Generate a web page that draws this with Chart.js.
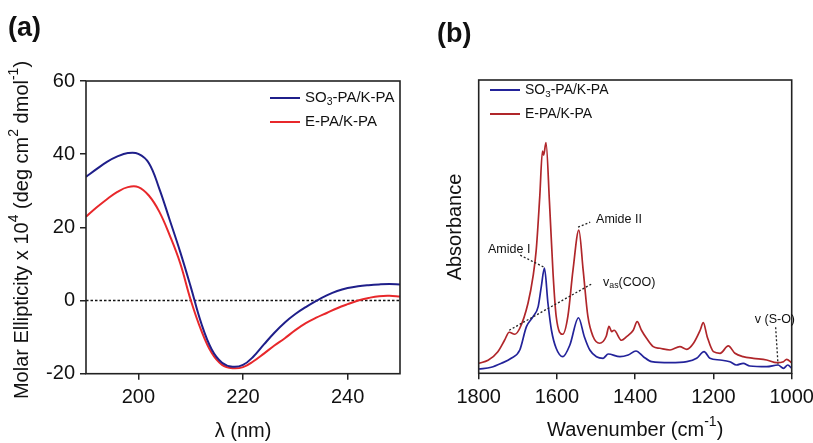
<!DOCTYPE html>
<html><head><meta charset="utf-8">
<script src="https://cdn.jsdelivr.net/npm/chart.js@4.4.0/dist/chart.umd.min.js"></script>
<style>
html,body{margin:0;padding:0;background:#fff;width:813px;height:443px;overflow:hidden;position:relative}
#ca{position:absolute;left:0;top:0}
#cb{position:absolute;left:410px;top:0}
</style></head><body>
<canvas id="ca" width="410" height="443"></canvas>
<canvas id="cb" width="420" height="443"></canvas>
<script>
// ---------- Panel (a): CD spectra ----------
const cdWavelength = [190,192,194,196,198,200,202,204,206,208,210,212,214,216,218,220,222,224,226,228,230,232,234,236,238,240,242,244,246,248,250];
const cdSO3 =        [33.8,35.9,37.9,39.4,40.3,40.1,37.6,30.6,22.0,13.3,3.8,-6.1,-13.3,-17.0,-18.1,-17.6,-15.3,-12.0,-8.8,-6.0,-3.7,-1.8,-0.1,1.4,2.6,3.4,3.9,4.2,4.4,4.5,4.4];
const cdE =          [22.9,25.4,27.7,29.7,31.0,31.0,28.7,24.3,17.8,10.2,0.2,-8.1,-14.3,-17.6,-18.5,-18.2,-16.6,-14.5,-12.3,-10.3,-8.1,-6.2,-4.7,-3.4,-2.1,-1.0,0.0,0.7,1.2,1.3,1.1];
const cdXTicks = [200,220,240];
const cdYTicks = [-20,0,20,40,60];

// ---------- Panel (b): FTIR spectra (arbitrary absorbance units) ----------
const irNuSO3 = [1800,1768,1742,1717,1695,1678,1661,1648,1640,1632,1623,1614,1602,1585,1567,1545,1530,1516,1499,1482,1469,1439,1418,1398,1379,1358,1311,1268,1243,1224,1209,1183,1158,1141,1124,1107,1064,1035,1021,1010,1000];
const irSO3 =   [4.3,6,10,15,23.3,46.6,56.6,66.6,86.6,105,70,43,25,16.6,28.3,55.5,36.6,23.3,16.6,15,19.3,16.6,18.3,22.3,16.6,11.6,10.6,11.6,15,21.6,15,13.3,11.6,8.3,10,7.3,6.6,8.3,5,8.3,5];
const irNuE = [1800,1776,1751,1734,1722,1708,1695,1674,1661,1653,1644,1637,1634,1628,1619,1610,1602,1585,1572,1559,1544,1533,1521,1508,1491,1474,1467,1460,1454,1435,1422,1405,1395,1384,1371,1354,1337,1311,1286,1268,1251,1234,1226,1216,1200,1183,1162,1145,1124,1098,1064,1038,1021,1013,1000];
const irE =   [10,13,21.6,33,41,39,45,70,97,123,176,222,218,230.5,170,100,57,39,57,103,143,103,57,37,30,37,47,41.6,43,33,36.6,43,51.6,43,35,26.6,25,23.3,26.6,24,30,43,50.6,36.6,21.6,20,27.3,20,16.6,15,13.3,10.6,11.6,14,10.6];
const irXTicks = [1800,1600,1400,1200,1000];

const seriesNames = ['SO_{3}-PA/K-PA','E-PA/K-PA'];

// annotations (wavenumber, absorbance units)
const irNotes = [
  {text:'Amide I', nu:1722, h:124, align:'center', from:[1694,118], to:[1633,106]},
  {text:'Amide II', nu:1500, h:154, align:'left', from:[1546,146], to:[1515,151]},
  {text:'v_{as}(COO)', nu:1482, h:91, align:'left', from:[1722,43], to:[1508,90]},
  {text:'v (S-O)', nu:1043, h:54, align:'center', from:[1041,46], to:[1035,9]}
];

const FONT = '"Liberation Sans", Arial, Helvetica, sans-serif';
const INK = '#222';

function parseRich(s){
  const parts=[]; const re=/([_^])\{([^}]*)\}/g; let last=0, m;
  while((m=re.exec(s))){ if(m.index>last) parts.push([s.slice(last,m.index),0]); parts.push([m[2], m[1]==='^'?1:-1]); last=re.lastIndex; }
  if(last<s.length) parts.push([s.slice(last),0]);
  return parts;
}
function drawRich(ctx, s, x, y, size, align, weight){
  const parts=parseRich(s); weight=weight||'normal';
  let total=0;
  parts.forEach(p=>{ ctx.font = weight+' '+(p[1]?size*0.7:size)+'px '+FONT; total+=ctx.measureText(p[0]).width; });
  let cx = align==='center'? x-total/2 : (align==='right'? x-total : x);
  ctx.textBaseline='middle'; ctx.textAlign='left';
  parts.forEach(p=>{
    const fs = p[1]?size*0.7:size;
    ctx.font = weight+' '+fs+'px '+FONT;
    const dy = p[1]===1? -size*0.38 : (p[1]===-1? size*0.3 : 0);
    ctx.fillText(p[0], cx, y+dy);
    cx += ctx.measureText(p[0]).width;
  });
}

function framePlugin(opts){
  return {
    id:'deco',
    afterDatasetsDraw(chart){
      const ctx=chart.ctx, a=chart.chartArea;
      ctx.save();
      ctx.strokeStyle=INK; ctx.lineWidth=1.6;
      ctx.strokeRect(a.left, a.top, a.right-a.left, a.bottom-a.top);
      ctx.fillStyle='#111';
      drawRich(ctx, opts.letter, opts.letterX, opts.letterY, 27, 'left', 'bold');
      drawRich(ctx, opts.xTitle, (a.left+a.right)/2, opts.xTitleY, 20, 'center');
      ctx.save();
      ctx.translate(opts.yTitleX, opts.yTitleY); ctx.rotate(-Math.PI/2);
      drawRich(ctx, opts.yTitle, 0, 0, 20, 'center');
      ctx.restore();
      chart.data.datasets.forEach((ds,i)=>{
        if(ds.legend===false) return;
        const yy = opts.legY + i*opts.legGap;
        ctx.strokeStyle=ds.borderColor; ctx.lineWidth=2;
        ctx.beginPath(); ctx.moveTo(opts.legX, yy); ctx.lineTo(opts.legX+30, yy); ctx.stroke();
        ctx.fillStyle='#111';
        drawRich(ctx, ds.label, opts.legX+35, yy, opts.legSize, 'left');
      });
      if(opts.notes){
        const xs=chart.scales.x, ys=chart.scales.y;
        opts.notes.forEach(n=>{
          ctx.strokeStyle=INK; ctx.lineWidth=1.3; ctx.setLineDash([2,2]);
          ctx.beginPath();
          ctx.moveTo(xs.getPixelForValue(n.from[0]), ys.getPixelForValue(n.from[1]));
          ctx.lineTo(xs.getPixelForValue(n.to[0]), ys.getPixelForValue(n.to[1]));
          ctx.stroke(); ctx.setLineDash([]);
          ctx.fillStyle='#111';
          drawRich(ctx, n.text, xs.getPixelForValue(n.nu), ys.getPixelForValue(n.h), 12.5, n.align);
        });
      }
      ctx.restore();
    }
  };
}

function pts(xs, ys){ return xs.map((x,i)=>({x:x, y:ys[i]})); }

const tickFont = {family: FONT, size: 20};
const gridTicks = {display:true, drawOnChartArea:false, drawTicks:true, tickLength:6, color:INK, lineWidth:1.5};
const plainLabel = v => String(v);

new Chart(document.getElementById('ca'), {
  type:'line',
  data:{datasets:[
    {label:seriesNames[0], data:pts(cdWavelength, cdSO3), borderColor:'#1f1f8a', borderWidth:2, pointRadius:0, tension:0.4, fill:false},
    {label:seriesNames[1], data:pts(cdWavelength, cdE), borderColor:'#e8282b', borderWidth:2, pointRadius:0, tension:0.4, fill:false},
    {label:'zero', legend:false, data:[{x:cdWavelength[0],y:0},{x:cdWavelength[cdWavelength.length-1],y:0}], borderColor:'#111', borderWidth:1.4, borderDash:[2.5,2], pointRadius:0, fill:false}
  ]},
  options:{
    responsive:false, animation:false, events:[],
    layout:{padding:{left:0, top:81, right:10, bottom:0}},
    plugins:{legend:{display:false}, tooltip:{enabled:false}},
    scales:{
      x:{type:'linear', min:190, max:250,
         afterBuildTicks:s=>{s.ticks=cdXTicks.map(v=>({value:v}));},
         afterFit:s=>{s.height=443-373.7;},
         grid:gridTicks, border:{display:false},
         ticks:{font:tickFont, color:'#111', padding:6, maxRotation:0, callback:plainLabel}},
      y:{type:'linear', min:-20, max:60,
         afterBuildTicks:s=>{s.ticks=cdYTicks.map(v=>({value:v}));},
         afterFit:s=>{s.width=86;},
         grid:gridTicks, border:{display:false},
         ticks:{font:tickFont, color:'#111', padding:5, callback:plainLabel}}
    }
  },
  plugins:[framePlugin({letter:'(a)', letterX:8, letterY:29, xTitle:'λ (nm)', xTitleY:431,
    yTitle:'Molar Ellipticity x 10^{4} (deg cm^{2} dmol^{-1})', yTitleX:22, yTitleY:230,
    legX:270, legY:98, legGap:24, legSize:15})]
});

new Chart(document.getElementById('cb'), {
  type:'line',
  data:{datasets:[
    {label:seriesNames[0], data:pts(irNuSO3, irSO3), borderColor:'#23239a', borderWidth:1.7, pointRadius:0, cubicInterpolationMode:'monotone', fill:false},
    {label:seriesNames[1], data:pts(irNuE, irE), borderColor:'#b0262a', borderWidth:1.7, pointRadius:0, cubicInterpolationMode:'monotone', fill:false}
  ]},
  options:{
    responsive:false, animation:false, events:[],
    layout:{padding:{left:68.7, top:80, right:38.3, bottom:0}},
    plugins:{legend:{display:false}, tooltip:{enabled:false}},
    scales:{
      x:{type:'linear', reverse:true, min:1000, max:1800,
         afterBuildTicks:s=>{s.ticks=irXTicks.map(v=>({value:v}));},
         afterFit:s=>{s.height=443-373.3;},
         grid:gridTicks, border:{display:false},
         ticks:{font:tickFont, color:'#111', padding:6, maxRotation:0, callback:plainLabel}},
      y:{type:'linear', min:0, max:293, display:false}
    }
  },
  plugins:[framePlugin({letter:'(b)', letterX:27, letterY:35, xTitle:'Wavenumber (cm^{-1})', xTitleY:430,
    yTitle:'Absorbance', yTitleX:45, yTitleY:227,
    legX:80, legY:90, legGap:24, legSize:14, notes:irNotes})]
});
</script>
</body></html>
